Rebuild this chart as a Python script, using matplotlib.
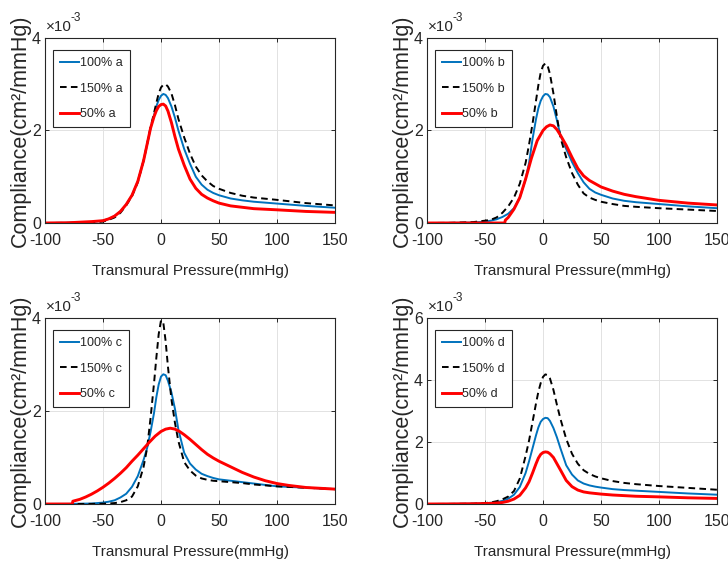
import matplotlib
matplotlib.use('Agg')
import matplotlib.pyplot as plt

# --- Data (compliance in units of 1e-3 cm^2/mmHg) ---

pressure = [-100, -80, -60, -50, -45, -40, -35, -30, -25, -20, -15, -12, -9, -6, -4, -2,
            0, 2, 4, 6, 9, 12, 15, 20, 25, 30, 35, 40, 45, 50, 60, 70, 80, 100, 125, 150]

# panel a
blue_a = [0, 0.005, 0.02, 0.05, 0.09, 0.15, 0.25, 0.4, 0.6, 0.9, 1.35, 1.7, 2.05, 2.33, 2.52, 2.66,
          2.75, 2.79, 2.77, 2.7, 2.52, 2.28, 2.0, 1.6, 1.28, 1.0, 0.83, 0.72, 0.65, 0.6, 0.53, 0.49, 0.46, 0.42, 0.37, 0.33]
black_a = [0, 0.003, 0.01, 0.03, 0.07, 0.12, 0.22, 0.38, 0.58, 0.88, 1.35, 1.7, 2.07, 2.38, 2.6, 2.8,
           2.93, 2.99, 3.0, 2.95, 2.8, 2.55, 2.25, 1.85, 1.5, 1.22, 1.03, 0.9, 0.8, 0.74, 0.65, 0.59, 0.55, 0.5, 0.43, 0.38]
red_a = [0, 0.005, 0.03, 0.05, 0.09, 0.15, 0.25, 0.4, 0.6, 0.9, 1.35, 1.7, 2.05, 2.3, 2.43, 2.52,
         2.56, 2.57, 2.53, 2.42, 2.17, 1.87, 1.6, 1.25, 0.95, 0.75, 0.62, 0.54, 0.48, 0.43, 0.37, 0.34, 0.31, 0.285, 0.25, 0.23]

# panel b
blue_b = [0, 0.003, 0.01, 0.03, 0.05, 0.08, 0.13, 0.2, 0.32, 0.55, 0.95, 1.3, 1.82, 2.25, 2.48, 2.64,
          2.74, 2.79, 2.78, 2.72, 2.52, 2.22, 1.9, 1.6, 1.32, 1.08, 0.88, 0.74, 0.66, 0.61, 0.53, 0.48, 0.45, 0.41, 0.36, 0.32]
black_b = [0, 0.003, 0.02, 0.05, 0.07, 0.12, 0.22, 0.36, 0.55, 0.85, 1.3, 1.7, 2.15, 2.65, 2.98, 3.25,
           3.4, 3.45, 3.4, 3.22, 2.8, 2.3, 1.85, 1.42, 1.08, 0.83, 0.64, 0.55, 0.5, 0.46, 0.41, 0.37, 0.35, 0.32, 0.29, 0.26]
pressure_red_b = [-100, -33, -32.5, -30, -25, -20, -15, -10, -5, 0, 3, 6, 9, 12, 15, 20, 25, 30,
                  35, 40, 45, 50, 60, 70, 80, 100, 125, 150]
red_b = [0, 0, 0.06, 0.12, 0.3, 0.55, 0.95, 1.4, 1.78, 2.0, 2.08, 2.12, 2.1, 2.02, 1.9, 1.68, 1.42, 1.18,
         1.02, 0.92, 0.85, 0.78, 0.69, 0.62, 0.57, 0.49, 0.43, 0.39]

# panel c
blue_c = [0, 0.002, 0.01, 0.03, 0.05, 0.08, 0.14, 0.22, 0.37, 0.6, 0.95, 1.2, 1.55, 1.96, 2.3, 2.57,
          2.74, 2.79, 2.77, 2.65, 2.4, 2.05, 1.6, 1.1, 0.87, 0.74, 0.65, 0.6, 0.56, 0.53, 0.5, 0.47, 0.44, 0.38, 0.35, 0.32]
black_c = [0, 0, 0.003, 0.007, 0.012, 0.02, 0.04, 0.08, 0.16, 0.38, 0.8, 1.2, 1.85, 2.6, 3.15, 3.65,
           3.95, 3.9, 3.5, 2.95, 2.25, 1.75, 1.35, 0.9, 0.72, 0.61, 0.55, 0.52, 0.5, 0.49, 0.47, 0.45, 0.42, 0.38, 0.35, 0.32]
pressure_red_c = [-100, -76.5, -76, -70, -65, -60, -55, -50, -45, -40, -35, -30, -25, -20, -15, -10,
                  -5, 0, 4, 8, 12, 16, 20, 25, 30, 35, 40, 45, 50, 55, 60, 70, 80, 90, 100, 110, 125, 150]
red_c = [0, 0, 0.06, 0.1, 0.15, 0.21, 0.28, 0.36, 0.45, 0.55, 0.66, 0.78, 0.92, 1.05, 1.19, 1.33,
         1.46, 1.56, 1.61, 1.63, 1.61, 1.56, 1.49, 1.39, 1.28, 1.17, 1.07, 0.99, 0.92, 0.86, 0.8, 0.68, 0.58,
         0.5, 0.44, 0.4, 0.355, 0.32]

# panel d
blue_d = [0, 0.003, 0.01, 0.025, 0.04, 0.06, 0.1, 0.17, 0.3, 0.55, 1.0, 1.38, 1.8, 2.22, 2.47, 2.65,
          2.74, 2.78, 2.77, 2.68, 2.45, 2.15, 1.8, 1.25, 0.95, 0.76, 0.66, 0.6, 0.56, 0.53, 0.48, 0.45, 0.43, 0.39, 0.34, 0.3]
black_d = [0, 0.003, 0.01, 0.03, 0.05, 0.09, 0.15, 0.24, 0.42, 0.82, 1.55, 2.05, 2.65, 3.25, 3.62, 3.9,
           4.1, 4.18, 4.16, 4.05, 3.68, 3.2, 2.75, 2.1, 1.62, 1.3, 1.09, 0.97, 0.89, 0.83, 0.74, 0.68, 0.64, 0.58, 0.52, 0.46]
red_d = [0, 0.002, 0.008, 0.015, 0.02, 0.03, 0.05, 0.09, 0.16, 0.28, 0.52, 0.72, 1.0, 1.3, 1.48, 1.6,
         1.66, 1.68, 1.67, 1.62, 1.5, 1.3, 1.1, 0.76, 0.56, 0.45, 0.39, 0.36, 0.34, 0.32, 0.29, 0.27, 0.25, 0.23, 0.2, 0.18]

panel_names = ['a', 'b', 'c', 'd']
blue_series = [blue_a, blue_b, blue_c, blue_d]
black_series = [black_a, black_b, black_c, black_d]
red_x = [pressure, pressure_red_b, pressure_red_c, pressure]
red_series = [red_a, red_b, red_c, red_d]
y_ticks = [[0, 2, 4], [0, 2, 4], [0, 2, 4], [0, 2, 4, 6]]
x_ticks = [-100, -50, 0, 50, 100, 150]

# --- Styling ---
plt.rcParams['font.family'] = ['Liberation Sans', 'DejaVu Sans']
plt.rcParams['axes.unicode_minus'] = False
TEXT = '#262626'
BLUE = '#0072BD'

W, H = 728, 569
# axes boxes in pixels: left, top, right, bottom
boxes = [(45, 38, 335, 223), (427, 38, 717, 223), (45, 318, 335, 504), (427, 318, 717, 504)]

fig = plt.figure(figsize=(W / 100, H / 100), dpi=100)

for i, name in enumerate(panel_names):
    l, t, r, b = boxes[i]
    ax = fig.add_axes([l / W, 1 - b / H, (r - l) / W, (b - t) / H])

    ax.plot(pressure, blue_series[i], color=BLUE, lw=1.4, label=f'100% {name}')
    ax.plot(pressure, black_series[i], color='k', lw=1.4, linestyle=(0, (3.4, 2.2)),
            label=f'150% {name}')
    ax.plot(red_x[i], red_series[i], color='#FF0000', lw=2.1, label=f'50% {name}')

    ax.set_xlim(-100, 150)
    ax.set_ylim(0, y_ticks[i][-1])
    ax.set_xticks(x_ticks)
    ax.set_yticks(y_ticks[i])
    ax.grid(True, color='#e2e2e2', lw=0.7)
    ax.set_axisbelow(True)
    ax.tick_params(direction='in', length=3, width=0.7, top=True, right=True,
                   labelsize=11.5, labelcolor=TEXT, color=TEXT)
    ax.tick_params(axis='x', pad=7)
    ax.tick_params(axis='y', pad=3)
    for s in ax.spines.values():
        s.set_linewidth(0.8)
        s.set_color(TEXT)

    ax.set_xlabel('Transmural Pressure(mmHg)', fontsize=11, color=TEXT)
    ax.xaxis.set_label_coords(0.5, -41 / (b - t))
    ax.set_ylabel('Compliance(cm²/mmHg)', fontsize=15.5, color=TEXT)
    ax.yaxis.set_label_coords(-14 / (r - l), 0.5)

    # MATLAB style exponent above the y axis
    ax.annotate('×10', xy=(0, 1), xycoords='axes fraction', xytext=(0.5, 3),
                textcoords='offset points', ha='left', va='bottom', fontsize=11, color=TEXT)
    ax.annotate('-3', xy=(0, 1), xycoords='axes fraction', xytext=(18.5, 10),
                textcoords='offset points', ha='left', va='bottom', fontsize=8.5, color=TEXT)

    leg = ax.legend(loc='upper left', bbox_to_anchor=(8 / (r - l), 1 - 12 / (b - t)),
                    borderaxespad=0, fontsize=9, handlelength=1.5, handletextpad=0.15,
                    borderpad=0.55, labelspacing=1.1, fancybox=False, framealpha=1)
    leg.get_frame().set_edgecolor(TEXT)
    leg.get_frame().set_linewidth(0.8)
    for txt in leg.get_texts():
        txt.set_color(TEXT)

fig.savefig('out.png', dpi=100)
